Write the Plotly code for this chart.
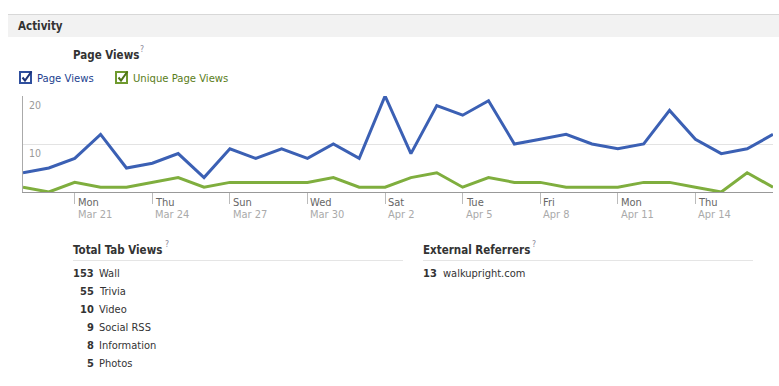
import plotly.graph_objects as go
import pandas as pd

W, H = 779, 386

# ---- data ----
dates = pd.date_range("2011-03-19", "2011-04-17", freq="D")
page_views = [4, 5, 7, 12, 5, 6, 8, 3, 9, 7, 9, 7, 10, 7, 20,
              8, 18, 16, 19, 10, 11, 12, 10, 9, 10, 17, 11, 8, 9, 12]
unique_views = [1, 0, 2, 1, 1, 2, 3, 1, 2, 2, 2, 2, 3, 1, 1,
                3, 4, 1, 3, 2, 2, 1, 1, 1, 2, 2, 1, 0, 4, 1]
tick_dates = ["2011-03-21", "2011-03-24", "2011-03-27", "2011-03-30", "2011-04-02",
              "2011-04-05", "2011-04-08", "2011-04-11", "2011-04-14"]
tick_days = ["Mon", "Thu", "Sun", "Wed", "Sat", "Tue", "Fri", "Mon", "Thu"]
tick_labels = ["Mar 21", "Mar 24", "Mar 27", "Mar 30", "Apr 2",
               "Apr 5", "Apr 8", "Apr 11", "Apr 14"]
y_ticks = [10, 20]
tab_counts = [153, 55, 10, 9, 8, 5]
tab_names = ["Wall", "Trivia", "Video", "Social RSS", "Information", "Photos"]
ref_counts = [13]
ref_names = ["walkupright.com"]

BLUE = "#3b60b4"
GREEN = "#7fae3e"
FONT = "Tahoma, 'DejaVu Sans Condensed', 'Liberation Sans', Arial, sans-serif"


def X(px):
    return px / W


def Y(py):
    return 1 - py / H


fig = go.Figure()
fig.add_trace(go.Scatter(x=dates, y=page_views, mode="lines", name="Page Views",
                         line=dict(color=BLUE, width=3), hoverinfo="x+y"))
fig.add_trace(go.Scatter(x=dates, y=unique_views, mode="lines", name="Unique Page Views",
                         line=dict(color=GREEN, width=3), hoverinfo="x+y"))

shapes = []
annotations = []


def txt(text, x, y, size=11, color="#333333", xanchor="left", xref="paper", yref="paper", **kw):
    d = dict(text=text, x=x, y=y, xref=xref, yref=yref, xanchor=xanchor, yanchor="middle",
             showarrow=False, font=dict(size=size, color=color, family=FONT))
    d.update(kw)
    annotations.append(d)


# header band
shapes.append(dict(type="rect", xref="paper", yref="paper", x0=X(8), x1=X(779),
                   y0=Y(37), y1=Y(14), fillcolor="#f2f2f2", line=dict(width=0), layer="below"))
shapes.append(dict(type="line", xref="paper", yref="paper", x0=X(8), x1=X(779),
                   y0=Y(14.5), y1=Y(14.5), line=dict(color="#d8d8d8", width=1)))
txt("<b>Activity</b>", X(16), Y(26), size=11.5)

# chart title
txt("<b>Page Views</b>", X(71), Y(55), size=11.5)
txt("?", X(139), Y(48.5), size=8.5, color="#8a8a9a", borderpad=0)

# legend checkboxes
for bx, col, dark, label, tcol in [(20, "#2f4f9e", "#1d3378", "Page Views", "#223f8f"),
                                   (116, "#6f9a2e", "#4f7418", "Unique Page Views", "#5a7d1a")]:
    shapes.append(dict(type="rect", xref="paper", yref="paper", x0=X(bx), x1=X(bx + 11),
                       y0=Y(83), y1=Y(72), fillcolor="white", line=dict(color=col, width=2)))
    path = "M {} {} L {} {} L {} {}".format(X(bx + 2.5), Y(77.5), X(bx + 5), Y(80.5),
                                            X(bx + 11.5), Y(71.5))
    shapes.append(dict(type="path", xref="paper", yref="paper", path=path,
                       line=dict(color=dark, width=2)))
    txt(label, X(bx + 15), Y(78), size=11.2, color=tcol)

# y labels inside plot
for v in y_ticks:
    txt(str(v), X(27), v, size=10.5, color="#999999", yref="y", yshift=-9)

# x tick labels
for d, day, lab in zip(tick_dates, tick_days, tick_labels):
    txt(day, d, Y(202.5), size=11, color="#666666", xref="x", xshift=1)
    txt(lab, d, Y(214), size=11, color="#aaaaaa", xref="x", xshift=1)

# bottom tables
txt("<b>Total Tab Views</b>", X(71), Y(250), size=11.5)
txt("?", X(164), Y(243.5), size=8.5, color="#8a8a9a", borderpad=0)
txt("<b>External Referrers</b>", X(421), Y(250), size=11.5)
txt("?", X(531), Y(243.5), size=8.5, color="#8a8a9a", borderpad=0)
shapes.append(dict(type="line", xref="paper", yref="paper", x0=X(73), x1=X(403),
                   y0=Y(260.5), y1=Y(260.5), line=dict(color="#e5e5e5", width=1)))
shapes.append(dict(type="line", xref="paper", yref="paper", x0=X(423), x1=X(753),
                   y0=Y(260.5), y1=Y(260.5), line=dict(color="#e5e5e5", width=1)))

for i, (c, n) in enumerate(zip(tab_counts, tab_names)):
    yy = Y(273 + 18 * i)
    txt("<b>%d</b>" % c, X(96), yy, xanchor="right")
    txt(n, X(97), yy)
for i, (c, n) in enumerate(zip(ref_counts, ref_names)):
    yy = Y(273 + 18 * i)
    txt("<b>%d</b>" % c, X(421), yy)
    txt(n, X(441), yy)

fig.update_layout(
    width=W, height=H, margin=dict(l=0, r=0, t=0, b=0),
    paper_bgcolor="white", plot_bgcolor="white", showlegend=False,
    font=dict(family=FONT),
    shapes=shapes, annotations=annotations,
    xaxis=dict(domain=[X(23), X(773)], range=[dates[0], dates[-1]], type="date",
               tickvals=tick_dates, showticklabels=False, ticks="outside", ticklen=11,
               tickcolor="#bbbbbb", tickwidth=1, showgrid=False, zeroline=False,
               showline=True, linecolor="#999999", linewidth=1, fixedrange=True),
    yaxis=dict(domain=[Y(192), Y(96)], range=[0, 20], tickvals=y_ticks, showticklabels=False,
               showgrid=True, gridcolor="#e3e3e3", gridwidth=1, zeroline=False,
               showline=True, linecolor="#aaaaaa", linewidth=1, ticks="", fixedrange=True),
)

fig.write_html("out.html", config={"displayModeBar": False},
               post_script="document.body.style.margin='0';")
